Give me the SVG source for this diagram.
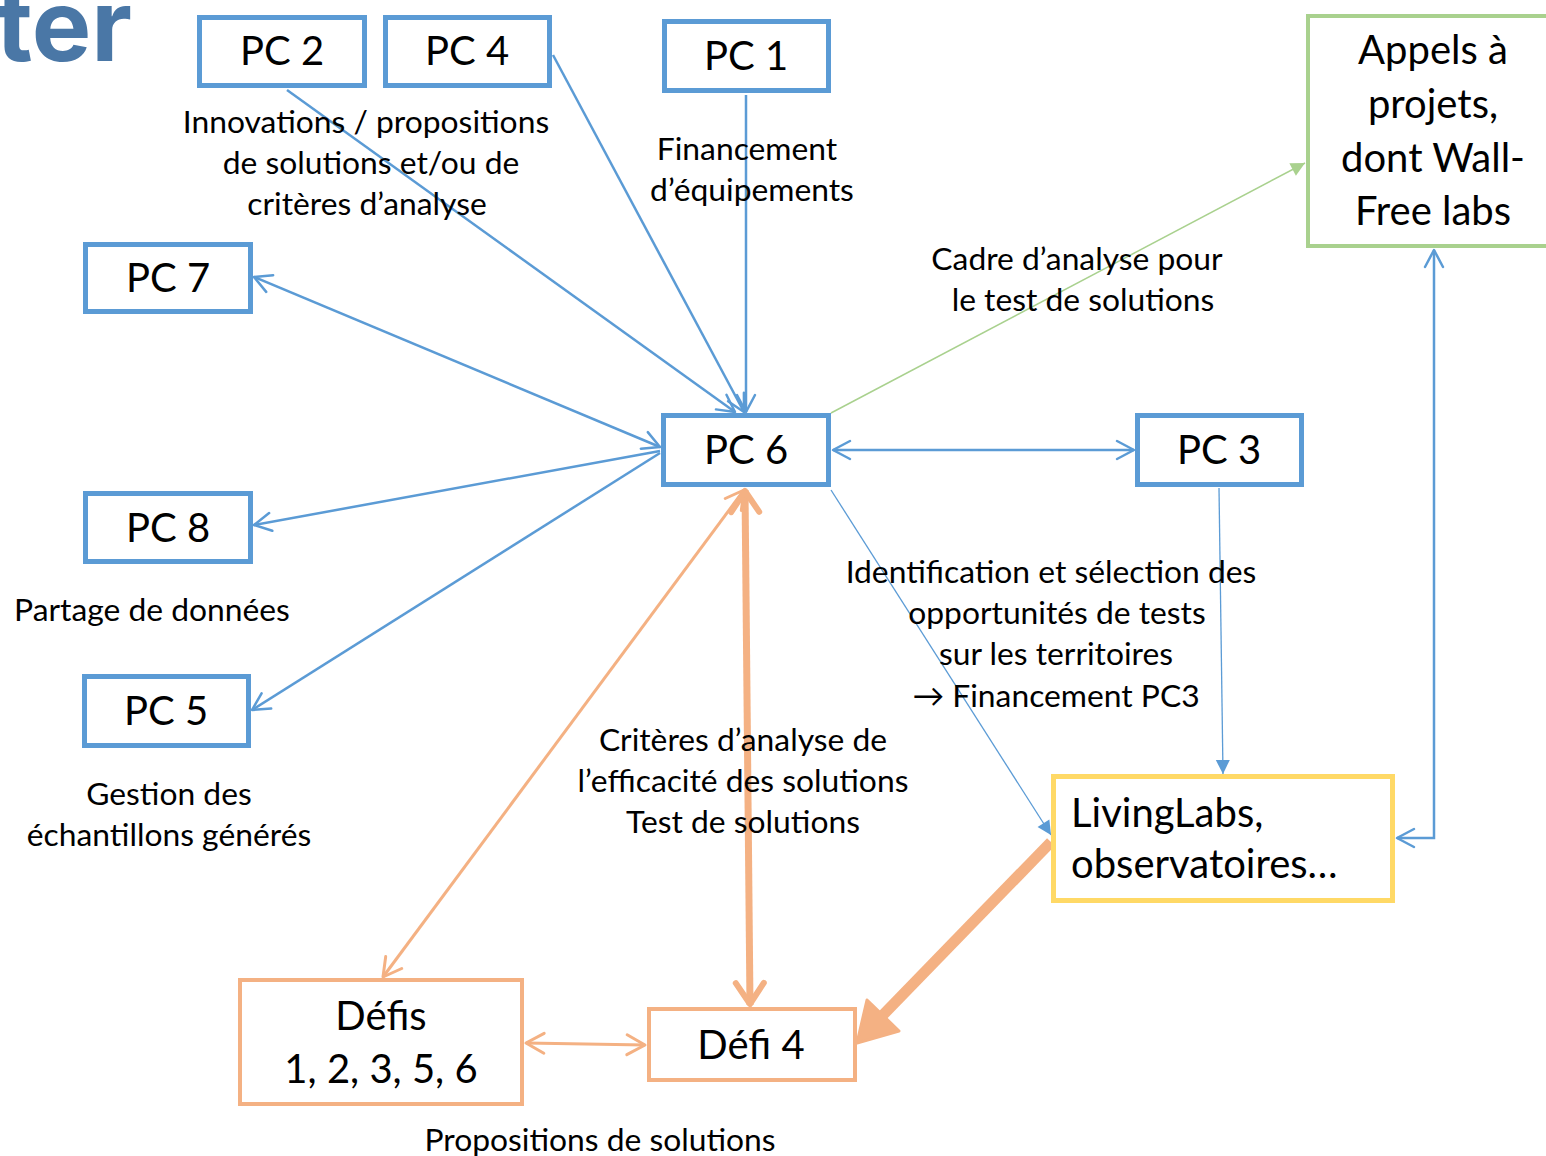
<svg xmlns="http://www.w3.org/2000/svg" width="1546" height="1156" viewBox="0 0 1546 1156">
<style>
.bg{fill:#fff}
.pc{fill:#fff;stroke:#5b9bd5;stroke-width:5}
.nt{font-family:Lato,"Open Sans","Liberation Sans",sans-serif;font-size:40px;fill:#000;text-anchor:middle}
.nl{font-family:Lato,"Open Sans","Liberation Sans",sans-serif;font-size:40px;fill:#000;text-anchor:start}
.lb{font-family:Lato,"Open Sans","Liberation Sans",sans-serif;font-size:31.8px;fill:#000;text-anchor:middle}
.cb{fill:none;stroke:#5b9bd5;stroke-width:2.5}
.ct{fill:none;stroke:#5b9bd5;stroke-width:1.3}
.co{fill:none;stroke:#f4b183;stroke-width:3}
</style>
<defs>
<marker id="bo" markerUnits="userSpaceOnUse" markerWidth="40" markerHeight="40" viewBox="-20 -20 40 40" refX="0" refY="0" orient="auto-start-reverse" overflow="visible"><path d="M-17,-9 L0,0 L-17,9" fill="none" stroke="#5b9bd5" stroke-width="2.5" stroke-linecap="round" stroke-linejoin="round"/></marker>
<marker id="bf" markerUnits="userSpaceOnUse" markerWidth="40" markerHeight="40" viewBox="-20 -20 40 40" refX="0" refY="0" orient="auto" overflow="visible"><path d="M-14,-7 L0,0 L-14,7 Z" fill="#5b9bd5"/></marker>
<marker id="gf" markerUnits="userSpaceOnUse" markerWidth="40" markerHeight="40" viewBox="-20 -20 40 40" refX="0" refY="0" orient="auto" overflow="visible"><path d="M-14,-7 L0,0 L-14,7 Z" fill="#a9d18e"/></marker>
<marker id="oo" markerUnits="userSpaceOnUse" markerWidth="40" markerHeight="40" viewBox="-20 -20 40 40" refX="0" refY="0" orient="auto-start-reverse" overflow="visible"><path d="M-18,-10 L0,0 L-18,10" fill="none" stroke="#f4b183" stroke-width="3" stroke-linecap="round" stroke-linejoin="round"/></marker>
<marker id="ob" markerUnits="userSpaceOnUse" markerWidth="60" markerHeight="60" viewBox="-30 -30 60 60" refX="0" refY="0" orient="auto-start-reverse" overflow="visible"><path d="M-22,-14 L-1,0 L-22,14" fill="none" stroke="#f4b183" stroke-width="6" stroke-linecap="round" stroke-linejoin="round"/></marker>
</defs>
<rect class="bg" x="0" y="0" width="1546" height="1156"/>
<text x="-4" y="61" font-family="Inter,'Open Sans','Liberation Sans',sans-serif" font-weight="700" font-size="100" fill="#4a77a6">ter</text>

<g id="connectors">
<path class="cb" d="M287,90 L735,412" marker-end="url(#bo)"/>
<path class="cb" d="M553,55 L744,412" marker-end="url(#bo)"/>
<path class="cb" d="M746,95 L746,412" marker-end="url(#bo)"/>
<path class="cb" d="M660,447 L254,277" marker-start="url(#bo)" marker-end="url(#bo)"/>
<path class="cb" d="M660,451 L254,525" marker-end="url(#bo)"/>
<path class="cb" d="M660,453 L252,710" marker-end="url(#bo)"/>
<path class="cb" d="M833,450 L1134,450" marker-start="url(#bo)" marker-end="url(#bo)"/>
<path d="M831,413 L1305,163" fill="none" stroke="#a9d18e" stroke-width="1.5" marker-end="url(#gf)"/>
<path class="ct" d="M831,490 L1051,835" marker-end="url(#bf)"/>
<path class="ct" d="M1219,488 L1223,774" marker-end="url(#bf)"/>
<path class="cb" d="M1397,838 L1434,838 L1434,250" marker-start="url(#bo)" marker-end="url(#bo)"/>
<path class="co" d="M744,490 L383,977" marker-start="url(#oo)" marker-end="url(#oo)"/>
<path d="M745,490 L750,1005" fill="none" stroke="#f4b183" stroke-width="7" marker-start="url(#ob)" marker-end="url(#ob)"/>
<path d="M1051,842 L880,1018" fill="none" stroke="#f4b183" stroke-width="11"/>
<path d="M857,1043 L867,1000 L899,1031 Z" fill="#f4b183" stroke="#f4b183" stroke-width="3" stroke-linejoin="round"/>
<path class="co" d="M526,1043 L645,1045" marker-start="url(#oo)" marker-end="url(#oo)"/>
</g>

<g id="pc2"><rect class="pc" x="199.5" y="17.5" width="165" height="68"/><text class="nt" x="282" y="65">PC 2</text></g>
<g id="pc4"><rect class="pc" x="385.5" y="17.5" width="164" height="68"/><text class="nt" x="467" y="65">PC 4</text></g>
<g id="pc1"><rect class="pc" x="664.5" y="21.5" width="164" height="69"/><text class="nt" x="746" y="70">PC 1</text></g>
<g id="pc7"><rect class="pc" x="85.5" y="244.5" width="165" height="67"/><text class="nt" x="168" y="292">PC 7</text></g>
<g id="pc6"><rect class="pc" x="663.5" y="415.5" width="165" height="69"/><text class="nt" x="746" y="464">PC 6</text></g>
<g id="pc3"><rect class="pc" x="1137.5" y="415.5" width="164" height="69"/><text class="nt" x="1219" y="464">PC 3</text></g>
<g id="pc8"><rect class="pc" x="85.5" y="493.5" width="165" height="68"/><text class="nt" x="168" y="542">PC 8</text></g>
<g id="pc5"><rect class="pc" x="84.5" y="676.5" width="164" height="69"/><text class="nt" x="166" y="725">PC 5</text></g>
<g id="appels"><rect x="1308" y="16" width="250" height="230" fill="#fff" stroke="#a9d18e" stroke-width="4"/>
<text class="nt" x="1433" y="64">Appels à</text><text class="nt" x="1433" y="118">projets,</text><text class="nt" x="1433" y="172">dont Wall-</text><text class="nt" x="1433" y="225">Free labs</text></g>
<g id="livinglabs"><rect x="1053.5" y="776.5" width="339" height="124" fill="#fff" stroke="#ffd966" stroke-width="5"/>
<text class="nl" x="1071" y="827">LivingLabs,</text><text class="nl" x="1071" y="878">observatoires…</text></g>
<g id="defis"><rect x="240" y="980" width="282" height="124" fill="#fff" stroke="#f4b183" stroke-width="4"/>
<text class="nt" x="381" y="1030">Défis</text><text class="nt" x="381" y="1083">1, 2, 3, 5, 6</text></g>
<g id="defi4"><rect x="649" y="1009" width="206" height="71" fill="#fff" stroke="#f4b183" stroke-width="4"/><text class="nt" x="751" y="1059">Défi 4</text></g>

<g id="labels">
<text class="lb" x="366" y="133">Innovations / propositions</text>
<text class="lb" x="371" y="174">de solutions et/ou de</text>
<text class="lb" x="367" y="215">critères d’analyse</text>
<text class="lb" x="747" y="160">Financement</text>
<text class="lb" x="752" y="201">d’équipements</text>
<text class="lb" x="1077" y="270">Cadre d’analyse pour</text>
<text class="lb" x="1083" y="311">le test de solutions</text>
<text class="lb" x="152" y="621">Partage de données</text>
<text class="lb" x="169" y="805">Gestion des</text>
<text class="lb" x="169" y="846">échantillons générés</text>
<text class="lb" x="1051" y="583">Identification et sélection des</text>
<text class="lb" x="1057" y="624">opportunités de tests</text>
<text class="lb" x="1056" y="665">sur les territoires</text>
<text class="lb" x="1056" y="707">→ Financement PC3</text>
<text class="lb" x="743" y="751">Critères d’analyse de</text>
<text class="lb" x="743" y="792">l’efficacité des solutions</text>
<text class="lb" x="743" y="833">Test de solutions</text>
<text class="lb" x="600" y="1151">Propositions de solutions</text>
</g>
</svg>
